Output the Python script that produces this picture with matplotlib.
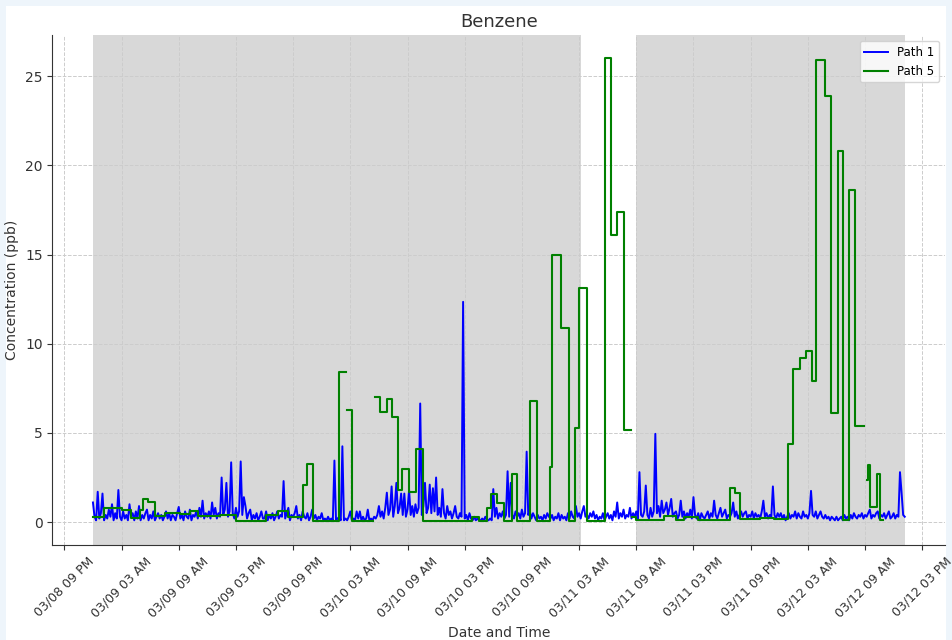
import numpy as np
import pandas as pd
import matplotlib
matplotlib.use("Agg")
import matplotlib.pyplot as plt
import matplotlib.dates as mdates
from matplotlib.patches import Rectangle

# Path 1: 10-minute readings starting 03/09 00:00 (one row = 6 hours)
start = pd.Timestamp("2024-03-09 00:00")
path1_vals = [
    1.1, 0.3, 0.1, 1.7, 0.2, 0.5, 1.6, 0.1, 0.4, 0.2, 0.7, 0.3, 1.0, 0.1, 0.5, 0.2, 1.8, 0.3, 0.1, 0.6, 0.2, 0.4, 0.1, 1.0, 0.3, 0.5, 0.1, 0.6, 0.2, 0.9, 0.1, 0.4, 0.2, 0.5, 0.7, 0.1,
    0.4, 0.2, 0.6, 0.1, 0.3, 0.5, 0.2, 0.4, 0.1, 0.3, 0.6, 0.2, 0.5, 0.1, 0.4, 0.3, 0.1, 0.5, 0.85, 0.2, 0.4, 0.1, 0.6, 0.3, 0.2, 0.7, 0.1, 0.4, 0.3, 0.6, 0.2, 0.8, 0.3, 1.2, 0.2, 0.5,
    0.3, 0.6, 0.2, 1.1, 0.4, 0.8, 0.2, 0.5, 0.3, 2.5, 0.4, 0.7, 2.2, 0.3, 0.6, 3.35, 0.5, 0.2, 0.8, 0.3, 0.6, 3.4, 0.4, 1.4, 0.9, 0.2, 0.5, 0.7, 0.1, 0.4, 0.2, 0.5, 0.1, 0.3, 0.6, 0.2,
    0.2, 0.6, 0.1, 0.4, 0.2, 0.5, 0.1, 0.3, 0.6, 0.2, 0.4, 0.3, 2.3, 0.2, 0.5, 0.8, 0.1, 0.4, 0.3, 0.5, 0.9, 0.2, 0.4, 0.1, 0.6, 0.3, 0.2, 0.5, 0.1, 0.3, 0.7, 0.2, 0.4, 0.1, 0.3, 0.2,
    0.5, 0.1, 0.2, 0.1, 0.3, 0.1, 0.2, 0.1, 3.45, 0.1, 0.2, 0.3, 0.1, 4.25, 0.1, 0.2, 0.1, 0.3, 0.6, 0.1, 0.2, 0.1, 0.6, 0.2, 0.6, 0.1, 0.3, 0.1, 0.2, 0.7, 0.1, 0.2, 0.1, 0.3, 0.2, 0.4,
    0.9, 0.3, 0.6, 0.2, 0.8, 1.65, 0.4, 0.7, 2.0, 0.3, 0.9, 2.2, 0.5, 0.8, 1.6, 0.4, 1.6, 0.3, 0.7, 1.8, 0.4, 0.9, 0.3, 1.0, 0.5, 0.8, 6.65, 0.4, 0.9, 2.2, 0.5, 0.8, 2.1, 0.5, 1.9, 0.6,
    2.5, 0.4, 0.8, 0.3, 1.85, 0.5, 0.2, 0.9, 0.4, 0.6, 0.2, 0.5, 0.9, 0.3, 0.2, 0.5, 0.3, 12.35, 0.2, 0.4, 0.1, 0.5, 0.2, 0.1, 0.3, 0.1, 0.2, 0.1, 0.1, 0.2, 0.1, 0.3, 0.1, 0.1, 0.2, 0.1,
    1.85, 0.3, 0.8, 0.2, 0.5, 0.3, 0.6, 0.2, 0.4, 2.85, 0.3, 2.2, 0.4, 0.2, 0.6, 0.3, 0.5, 0.2, 0.7, 0.3, 0.5, 3.95, 0.4, 0.6, 0.2, 0.5, 0.3, 0.1, 0.4, 0.2, 0.3, 0.1, 0.4, 0.2, 0.5, 0.3,
    0.2, 0.4, 0.1, 0.3, 0.2, 0.5, 0.1, 0.4, 0.2, 0.3, 0.1, 0.5, 0.2, 0.6, 0.3, 0.2, 0.9, 0.3, 0.5, 0.2, 0.6, 0.9, 0.3, 0.4, 0.2, 0.5, 0.3, 0.6, 0.2, 0.4, 0.1, 0.3, 0.2, 0.5, 0.1, 0.3,
    0.5, 0.2, 0.4, 0.1, 0.6, 0.3, 1.1, 0.2, 0.5, 0.3, 0.7, 0.2, 0.4, 0.3, 0.8, 0.2, 0.5, 0.3, 0.6, 0.2, 2.8, 0.4, 0.3, 0.6, 2.05, 0.4, 0.2, 0.8, 0.3, 0.6, 4.95, 0.5, 0.9, 0.3, 1.2, 0.5,
    0.7, 1.1, 0.4, 0.8, 1.3, 0.3, 0.5, 0.6, 0.2, 0.4, 1.2, 0.3, 0.6, 0.2, 0.5, 0.3, 0.7, 0.2, 1.4, 0.4, 0.2, 0.5, 0.1, 0.5, 0.3, 0.2, 0.4, 0.6, 0.2, 0.5, 0.3, 1.2, 0.4, 0.2, 0.5, 0.8,
    0.3, 0.5, 0.7, 0.2, 0.4, 0.3, 0.5, 1.1, 0.3, 0.6, 0.2, 0.4, 0.6, 0.3, 0.5, 0.6, 0.2, 0.4, 0.3, 0.6, 0.2, 0.5, 0.3, 0.4, 0.2, 0.6, 1.2, 0.3, 0.5, 0.2, 0.4, 0.3, 2.0, 0.4, 0.2, 0.5,
    0.3, 0.5, 0.2, 0.4, 0.1, 0.3, 0.5, 0.2, 0.4, 0.3, 0.6, 0.2, 0.5, 0.3, 0.2, 0.6, 0.3, 0.4, 0.2, 0.5, 1.75, 0.4, 0.3, 0.6, 0.2, 0.4, 0.6, 0.3, 0.2, 0.4, 0.2, 0.3, 0.1, 0.3, 0.2, 0.1,
    0.3, 0.1, 0.2, 0.3, 0.1, 0.4, 0.2, 0.3, 0.1, 0.4, 0.2, 0.5, 0.3, 0.2, 0.4, 0.3, 0.5, 0.2, 0.4, 0.3, 0.5, 0.7, 0.2, 0.4, 0.3, 0.5, 0.6, 0.2, 0.4, 0.3, 0.5, 0.2, 0.4, 0.6, 0.2, 0.3,
    0.5, 0.2, 0.4, 0.3, 2.8, 1.65, 0.4, 0.3,
]

# Path 5: value changes (hours after start), nan = no data
path5_hours = [0.0, 1.2, 3.1, 4.0, 4.9, 5.3, 5.8, 6.5, 7.6, 9.1, 10.2, 11.0, 13.3, 15.0, 18.2, 19.4, 20.5,
               22.0, 22.5, 23.1, 25.8, 26.6, 26.7, 27.2, 29.4, 29.6, 30.1, 30.8, 31.4, 32.0, 32.4, 33.2,
               33.9, 34.6, 39.8, 40.5, 41.3, 41.8, 42.4, 43.1, 44.0, 44.5, 45.9, 46.6, 47.9, 48.2, 49.1,
               49.9, 50.6, 51.0, 51.8, 53.7, 54.4, 55.0, 55.7, 56.5, 56.6, 57.0, 59.9, 61.2, 62.0, 63.5,
               66.8, 67.4, 67.9, 70.0, 71.5, 72.9, 73.4, 74.2, 74.8, 75.4, 75.9, 76.8, 77.4, 78.2, 78.7,
               79.3, 79.9, 80.9, 81.2, 81.35, 81.5, 82.3, 82.6, 82.9]
path5_vals = [0.3, 0.8, 0.7, 0.25, 0.7, 1.3, 1.1, 0.35, 0.5, 0.45, 0.6, 0.35, 0.4, 0.05, 0.4, 0.65, 0.3,
              2.1, 3.25, 0.05, 8.4, np.nan, 6.3, 0.05, np.nan, 7.0, 6.2, 6.9, 5.9, 1.8, 3.0, 1.7,
              4.1, 0.05, 0.3, 0.05, 0.8, 1.6, 1.05, 0.05, 2.7, 0.05, 6.8, 0.05, 3.1, 15.0, 10.9,
              0.05, 5.3, 13.1, 0.05, 26.0, 16.1, 17.4, 5.15, np.nan, 0.3, 0.1, 0.35, 0.1, 0.3, 0.1,
              1.9, 1.65, 0.15, 0.25, 0.15, 4.4, 8.6, 9.2, 9.6, 7.9, 25.9, 23.9, 6.1, 20.8, 0.1,
              18.6, 5.4, np.nan, 2.35, 3.2, 0.85, 2.7, 0.1, np.nan]

# shaded periods
shade_spans = [("2024-03-09 00:00", "2024-03-11 03:15"), ("2024-03-11 09:00", "2024-03-12 13:10")]

t1 = pd.date_range(start, periods=len(path1_vals), freq="10min")
t5 = start + pd.to_timedelta(path5_hours, unit="h")

fig = plt.figure(figsize=(9.52, 6.4), dpi=100)
fig.patch.set_facecolor("#eef5fb")
fig.add_artist(Rectangle((6 / 952, 0), 940 / 952, 634 / 640, transform=fig.transFigure,
                         facecolor="white", edgecolor="none", zorder=-10))
ax = fig.add_axes([0.055, 0.148, 0.938, 0.797])
ax.set_facecolor("white")

for s, e in shade_spans:
    ax.axvspan(pd.Timestamp(s), pd.Timestamp(e), color="gray", alpha=0.3, lw=0)

ax.plot(t1, path1_vals, color="blue", lw=1.4, label="Path 1")
ax.plot(t5, path5_vals, color="green", lw=1.5, drawstyle="steps-post", label="Path 5")

pad = (t1[-1] - t1[0]) * 0.05
ax.set_xlim(t1[0] - pad, t1[-1] + pad)
ax.set_ylim(-1.3, 27.3)

ax.xaxis.set_major_locator(mdates.HourLocator(byhour=[3, 9, 15, 21]))
ax.xaxis.set_major_formatter(mdates.DateFormatter("%m/%d %I %p"))
plt.setp(ax.get_xticklabels(), rotation=45)
ax.tick_params(colors="#333333")
ax.tick_params(axis="x", labelsize=9)
ax.tick_params(axis="y", labelsize=10)

ax.grid(True, linestyle="--", color="#cccccc", linewidth=0.7)
for side in ["top", "right"]:
    ax.spines[side].set_visible(False)
for side in ["left", "bottom"]:
    ax.spines[side].set_color("#333333")

ax.set_title("Benzene", fontsize=13, color="#333333")
ax.set_xlabel("Date and Time", fontsize=10, color="#333333")
ax.set_ylabel("Concentration (ppb)", fontsize=10, color="#333333")
ax.legend(loc="upper right", fontsize=8.5)

fig.savefig("out.png", dpi=100, facecolor=fig.get_facecolor())
